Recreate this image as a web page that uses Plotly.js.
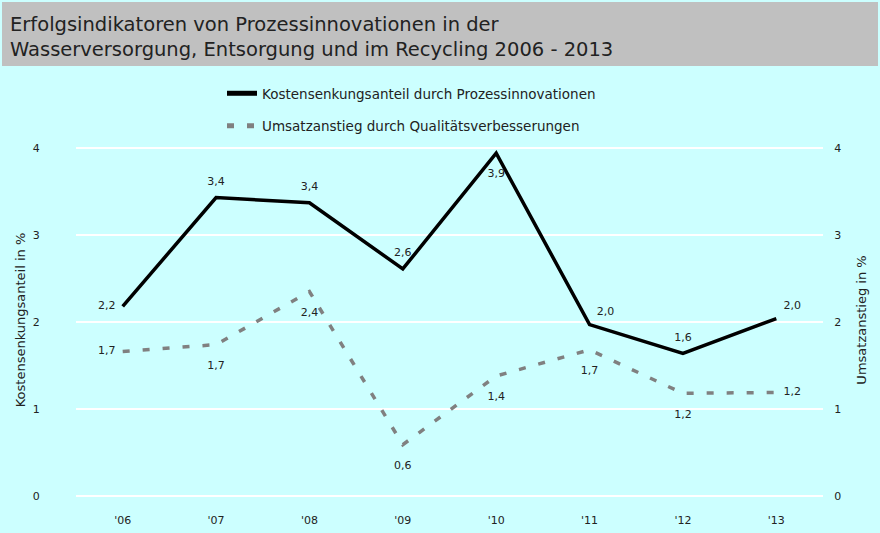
<!DOCTYPE html>
<html><head><meta charset="utf-8">
<script src="https://cdn.plot.ly/plotly-3.0.1.min.js"></script>
<style>html,body{margin:0;padding:0;background:#ccffff;}#c{width:880px;height:533px;}</style>
</head><body><div id="c"></div>
<script>
const years = ["'06","'07","'08","'09","'10","'11","'12","'13"];
const kosten = [2.18, 3.43, 3.37, 2.61, 3.94, 1.97, 1.64, 2.04];
const kostenLabels = ["2,2","3,4","3,4","2,6","3,9","2,0","1,6","2,0"];
const umsatz = [1.66, 1.74, 2.35, 0.59, 1.38, 1.68, 1.18, 1.19];
const umsatzLabels = ["1,7","1,7","2,4","0,6","1,4","1,7","1,2","1,2"];

const F = "DejaVu Sans, Verdana, sans-serif";
const W = 880, H = 533;
const m = {l:76, r:57, t:140, b:33};
const pw = W - m.l - m.r, ph = H - m.t - m.b;
const px = x => (x - m.l) / pw;
const py = y => (H - m.b - y) / ph;

// label placement (style, not data)
const kPos = ["middle left","top center","top center","top center","bottom center","top right","top center","top right"];
const uPos = ["middle left","bottom center","bottom center","bottom center","bottom center","bottom center","bottom center","middle right"];
const sizeFor = p => p.startsWith('bottom') ? 24 : (p === 'top center' ? 14 : 10);

const traces = [
  {x: years, y: kosten, text: kostenLabels, textposition: kPos, mode: 'lines+markers+text',
   name: 'Kostensenkungsanteil durch Prozessinnovationen', legendgroup: 'a',
   marker: {size: kPos.map(sizeFor), color: 'rgba(0,0,0,0)', opacity: 0, line: {width: 0}},
   line: {color: '#000000', width: 3.5}, textfont: {family: F, size: 11, color: '#222'},
   cliponaxis: false, hoverinfo: 'skip'},
  {x: years, y: umsatz, text: umsatzLabels, textposition: uPos, mode: 'lines+markers+text',
   name: 'Umsatzanstieg durch Qualitätsverbesserungen', legendgroup: 'b',
   marker: {size: uPos.map(sizeFor), color: 'rgba(0,0,0,0)', opacity: 0, line: {width: 0}},
   line: {color: '#808080', width: 3.5, dash: '7px,13px'}, textfont: {family: F, size: 11, color: '#222'},
   cliponaxis: false, hoverinfo: 'skip'},
  {x: years, y: umsatz, yaxis: 'y2', mode: 'lines', showlegend: false,
   line: {color: 'rgba(0,0,0,0)', width: 0}, hoverinfo: 'skip'}
];

const layout = {
  width: W, height: H, margin: m,
  paper_bgcolor: '#ccffff', plot_bgcolor: '#ccffff',
  font: {family: F, size: 12, color: '#222'},
  title: {text: 'Erfolgsindikatoren von Prozessinnovationen in der<br>Wasserversorgung, Entsorgung und im Recycling 2006 - 2013',
    x: 10/W, xanchor: 'left', xref: 'container', y: 1 - 31/H, yanchor: 'top', yref: 'container',
    font: {family: F, size: 19.5, color: '#222'}},
  showlegend: true,
  legend: {x: px(222), xanchor: 'left', y: py(78), yanchor: 'top', orientation: 'v', itemsizing: 'constant',
    bgcolor: 'rgba(0,0,0,0)', tracegroupgap: 12, font: {family: F, size: 13.5, color: '#222'}},
  xaxis: {type: 'category', range: [-0.5, 7.5], showgrid: false, zeroline: false,
    ticks: 'outside', ticklen: 10, tickcolor: 'rgba(0,0,0,0)', tickfont: {family: F, size: 11, color: '#222'}},
  yaxis: {range: [-0.046, 4.092], tickvals: [0,1,2,3,4], showgrid: true, gridcolor: '#ffffff', gridwidth: 1.5,
    zeroline: false, ticks: 'outside', ticklen: 33, tickcolor: 'rgba(0,0,0,0)',
    tickfont: {family: F, size: 11, color: '#222'},
    title: {text: 'Kostensenkungsanteil in %', font: {family: F, size: 13, color: '#222'}, standoff: 4}},
  yaxis2: {range: [-0.046, 4.092], tickvals: [0,1,2,3,4], overlaying: 'y', side: 'right', showgrid: false,
    zeroline: false, ticks: 'outside', ticklen: 8, tickcolor: 'rgba(0,0,0,0)',
    tickfont: {family: F, size: 11, color: '#222'},
    title: {text: 'Umsatzanstieg in %', font: {family: F, size: 13, color: '#222'}, standoff: 16}},
  shapes: [{type: 'rect', xref: 'paper', yref: 'paper', x0: px(2), x1: px(878), y0: py(2), y1: py(66),
    fillcolor: '#c0c0c0', line: {width: 0}, layer: 'below'}]
};

Plotly.newPlot('c', traces, layout, {displayModeBar: false, staticPlot: true});
</script></body></html>
